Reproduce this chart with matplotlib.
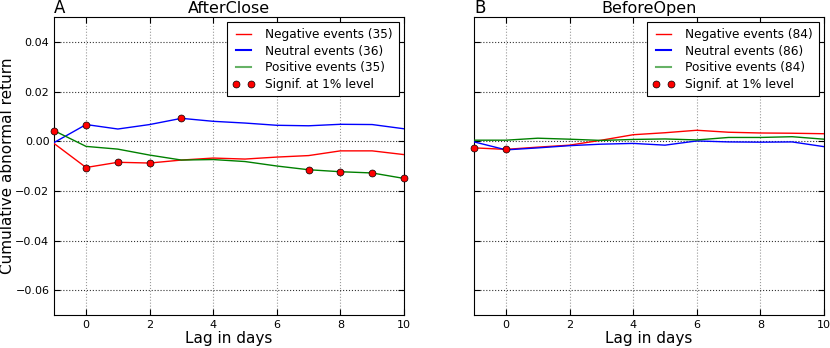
import matplotlib
matplotlib.use("Agg")
import matplotlib.pyplot as plt
from matplotlib.lines import Line2D
import numpy as np

lags = [-1, 0, 1, 2, 3, 4, 5, 6, 7, 8, 9, 10]

# Panel A: AfterClose
a_neg = [-0.0010, -0.0106, -0.0085, -0.0088, -0.0076, -0.0068, -0.0072, -0.0064, -0.0058, -0.0039, -0.0039, -0.0054]
a_neu = [-0.0005, 0.0067, 0.0049, 0.0067, 0.0092, 0.0080, 0.0073, 0.0064, 0.0062, 0.0068, 0.0067, 0.0050]
a_pos = [0.0042, -0.0021, -0.0032, -0.0056, -0.0076, -0.0074, -0.0082, -0.0100, -0.0115, -0.0123, -0.0128, -0.0150]
a_sig_neg = [0, 1, 2]
a_sig_neu = [0, 3]
a_sig_pos = [-1, 7, 8, 9, 10]
a_counts = [35, 36, 35]

# Panel B: BeforeOpen
b_neg = [-0.0027, -0.0033, -0.0024, -0.0016, 0.0004, 0.0026, 0.0034, 0.0044, 0.0036, 0.0033, 0.0032, 0.0030]
b_neu = [-0.0003, -0.0035, -0.0027, -0.0018, -0.0012, -0.0009, -0.0016, 0.0001, -0.0003, -0.0004, -0.0003, -0.0022]
b_pos = [0.0004, 0.0004, 0.0012, 0.0008, 0.0003, 0.0007, 0.0009, 0.0005, 0.0015, 0.0015, 0.0018, 0.0008]
b_sig_neg = [-1, 0]
b_sig_neu = []
b_sig_pos = []
b_counts = [84, 86, 84]

titles = ["AfterClose", "BeforeOpen"]
letters = ["A", "B"]

fig = plt.figure(figsize=(8.3, 3.48), dpi=100)
axA = fig.add_axes([0.0654, 0.0948, 0.4213, 0.8563])
axB = fig.add_axes([0.5714, 0.0948, 0.4213, 0.8563], sharey=axA)

panels = [
    (axA, a_neg, a_neu, a_pos, a_sig_neg, a_sig_neu, a_sig_pos, a_counts),
    (axB, b_neg, b_neu, b_pos, b_sig_neg, b_sig_neu, b_sig_pos, b_counts),
]

for i, (ax, neg, neu, pos, sn, su, sp, counts) in enumerate(panels):
    ax.plot(lags, neg, color="red", lw=1.0, zorder=3)
    ax.plot(lags, neu, color="blue", lw=1.0, zorder=3)
    ax.plot(lags, pos, color="green", lw=1.0, zorder=3)
    for series, sig in ((neg, sn), (neu, su), (pos, sp)):
        xs = [x for x in sig]
        ys = [series[lags.index(x)] for x in sig]
        if xs:
            ax.plot(xs, ys, "o", color="red", mec="black", mew=0.5, ms=5,
                    zorder=4, clip_on=False)
    ax.set_xlim(-1, 10)
    ax.set_ylim(-0.07, 0.05)
    ax.set_xticks([0, 2, 4, 6, 8, 10])
    ax.set_yticks([-0.06, -0.04, -0.02, 0.0, 0.02, 0.04])
    ax.yaxis.grid(True, color="black", linestyle=":", linewidth=0.8, alpha=0.8)
    ax.xaxis.grid(True, color="gray", linestyle=":", linewidth=0.8, alpha=0.8)
    ax.tick_params(direction="in", top=True, right=True, labelsize=8, length=4)
    ax.set_xlabel("Lag in days", fontsize=11, labelpad=1)
    ax.set_title(titles[i], fontsize=11.5, pad=3)
    ax.text(0.0, 1.0, letters[i], transform=ax.transAxes, fontsize=12,
            ha="left", va="bottom")
    handles = [
        Line2D([], [], color="red", lw=1.0),
        Line2D([], [], color="blue", lw=1.5),
        Line2D([], [], color="green", lw=1.5, alpha=0.6),
        Line2D([], [], color="red", marker="o", ls="none", mec="black",
               mew=0.5, ms=5),
    ]
    labels = [
        f"Negative events ({counts[0]})",
        f"Neutral events ({counts[1]})",
        f"Positive events ({counts[2]})",
        "Signif. at 1% level",
    ]
    leg = ax.legend(handles, labels, loc="upper right", fontsize=8.7,
                    numpoints=2, fancybox=False, framealpha=1,
                    edgecolor="black", borderaxespad=0.45, borderpad=0.45,
                    handlelength=1.8, handletextpad=0.9, labelspacing=0.3)
    leg.get_frame().set_linewidth(0.8)

axA.set_ylabel("Cumulative abnormal return", fontsize=11, labelpad=0)
plt.setp(axB.get_yticklabels(), visible=False)

fig.savefig("out.png", dpi=100)
